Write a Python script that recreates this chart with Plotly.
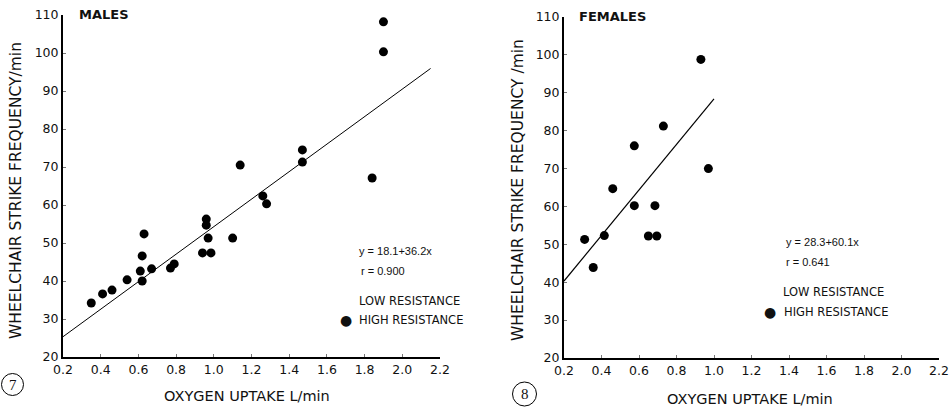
import plotly.graph_objects as go

W, H = 950, 408

# ---- data ----
male_x = [1.90, 1.90, 1.14, 1.47, 1.47, 1.84, 1.26, 1.28, 0.96, 0.96, 0.97, 0.94, 0.985,
          1.10, 0.63, 0.62, 0.61, 0.67, 0.62, 0.54, 0.46, 0.41, 0.35, 0.77, 0.79]
male_y = [108.2, 100.3, 70.5, 71.3, 74.5, 67.1, 62.4, 60.3, 56.3, 54.7, 51.3, 47.4, 47.4,
          51.3, 52.4, 46.6, 42.6, 43.2, 40.0, 40.3, 37.6, 36.6, 34.2, 43.4, 44.5]
female_x = [0.93, 0.73, 0.575, 0.97, 0.46, 0.575, 0.685, 0.65, 0.695, 0.415, 0.31, 0.356]
female_y = [98.8, 81.2, 76.0, 70.0, 64.7, 60.2, 60.2, 52.2, 52.2, 52.3, 51.3, 43.9]

male_fit = (18.1, 36.2)     # intercept, slope
female_fit = (28.3, 60.1)
male_fit_x = [0.2, 2.15]
female_fit_x = [0.2, 1.0]

x_ticks = [0.2, 0.4, 0.6, 0.8, 1.0, 1.2, 1.4, 1.6, 1.8, 2.0, 2.2]
x_tick_labels = ["0.2", "0.4", "0.6", "0.8", "1.0", "1.2", "1.4", "1.6", "1.8", "2.0", "2.2"]
y_ticks = [20, 30, 40, 50, 60, 70, 80, 90, 100, 110]

# ---- layout geometry (pixels) ----
L = dict(x0=63, x1=440, ytop=15, ybot=357)
R = dict(x0=564, x1=939, ytop=17, ybot=358)


def px(x):
    return x / W


def py(y):
    return 1 - y / H


fig = go.Figure()


def fit_line(fit, xs):
    return [fit[0] + fit[1] * v for v in xs]


fig.add_trace(go.Scatter(x=male_x, y=male_y, mode="markers", xaxis="x", yaxis="y",
                         marker=dict(color="black", size=9), showlegend=False))
fig.add_trace(go.Scatter(x=male_fit_x, y=fit_line(male_fit, male_fit_x), mode="lines",
                         xaxis="x", yaxis="y", line=dict(color="black", width=1),
                         showlegend=False))
fig.add_trace(go.Scatter(x=female_x, y=female_y, mode="markers", xaxis="x2", yaxis="y2",
                         marker=dict(color="black", size=9), showlegend=False))
fig.add_trace(go.Scatter(x=female_fit_x, y=fit_line(female_fit, female_fit_x), mode="lines",
                         xaxis="x2", yaxis="y2", line=dict(color="black", width=1.2),
                         showlegend=False))

tickfont = dict(family="DejaVu Sans", size=12.5, color="#111")


def xa(g, anchor):
    return dict(domain=[px(g["x0"]), px(g["x1"])], range=[0.2, 2.2], anchor=anchor,
                tickvals=x_ticks, ticktext=x_tick_labels, ticks="inside", ticklen=3,
                tickcolor="#777", showline=True, linecolor="black", linewidth=2,
                showgrid=False, zeroline=False, tickfont=tickfont, automargin=False)


def ya(g, anchor):
    return dict(domain=[py(g["ybot"]), py(g["ytop"])], range=[20, 110], anchor=anchor,
                tickvals=y_ticks, ticks="inside", ticklen=3, tickcolor="#777",
                showline=True, linecolor="black", linewidth=2, showgrid=False,
                zeroline=False, tickfont=tickfont, automargin=False)


fig.update_layout(
    template="none",
    width=W, height=H, margin=dict(l=0, r=0, t=0, b=0, pad=0),
    plot_bgcolor="white", paper_bgcolor="white",
    xaxis=xa(L, "y"), yaxis=ya(L, "x"),
    xaxis2=xa(R, "y2"), yaxis2=ya(R, "x2"),
    showlegend=False,
)

ann = []


def text(x, y, s, size=12, family="DejaVu Sans", xanchor="left", angle=0, bold=False):
    ann.append(dict(x=px(x), y=py(y), xref="paper", yref="paper", text=s, showarrow=False,
                    xanchor=xanchor, yanchor="middle", textangle=angle,
                    font=dict(family=family, size=size, color="#111",
                              weight="bold" if bold else "normal")))


# titles
text(77, 15, "MALES", size=13, bold=True)
text(577, 17, "FEMALES", size=13, bold=True)
# axis titles
text(16, 191, "WHEELCHAIR STRIKE FREQUENCY/min", size=15.5, xanchor="center", angle=-90)
text(518, 190, "WHEELCHAIR STRIKE FREQUENCY /min", size=15.5, xanchor="center", angle=-90)
text(247, 396, "OXYGEN UPTAKE L/min", size=14.5, xanchor="center")
text(750, 399, "OXYGEN UPTAKE L/min", size=14.5, xanchor="center")
# equations
eqf = "Liberation Sans Narrow, Liberation Sans"
text(357, 251, "y = 18.1+36.2x", size=11, family=eqf)
text(359, 271, "r = 0.900", size=11, family=eqf)
text(784, 242, "y = 28.3+60.1x", size=11, family=eqf)
text(784, 262, "r = 0.641", size=11, family=eqf)
# legends
text(357, 301, "LOW RESISTANCE", size=11.5)
text(346, 320, "●", size=14, xanchor="center")
text(357, 320, "HIGH RESISTANCE", size=11.5)
text(781, 292, "LOW RESISTANCE", size=11.5)
text(770, 312, "●", size=14, xanchor="center")
text(782, 312, "HIGH RESISTANCE", size=11.5)
# figure numbers
text(12.5, 385, "7", size=15, family="Liberation Serif", xanchor="center")
text(524.5, 394, "8", size=15, family="Liberation Serif", xanchor="center")

fig.update_layout(annotations=ann)

shapes = []
for cx, cy, r in [(12.5, 384.5, 11), (524.5, 394, 12)]:
    shapes.append(dict(type="circle", xref="paper", yref="paper",
                       x0=px(cx - r), x1=px(cx + r), y0=py(cy + r), y1=py(cy - r),
                       line=dict(color="black", width=1)))
fig.update_layout(shapes=shapes)

fig.write_html("out.html", config={"displayModeBar": False},
               post_script="document.body.style.margin='0px';")
